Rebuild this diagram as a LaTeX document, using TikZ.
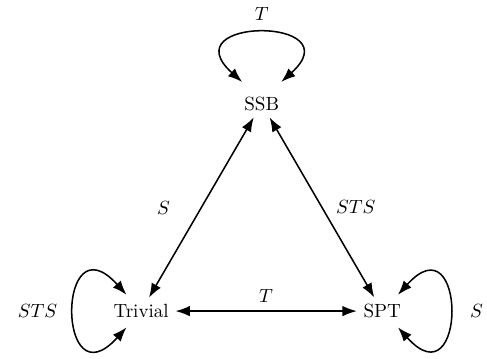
\documentclass[tikz,border=0pt]{standalone}
\usepackage{amsmath, amssymb}
\usepackage{tikz}
\usetikzlibrary{arrows.meta, positioning}

\begin{document}
\begin{tikzpicture}[
                phase/.style={
                    rectangle,
                    text centered,
                    inner sep=3.33pt
                },
                arrow/.style={{Latex[length=7.5pt,width=5.5pt]}-{Latex[length=7.5pt,width=5.5pt]}, thick}
            ]

            \useasboundingbox (-2.60,-0.866) rectangle (6.37,5.73);

            % Phases
            \node (trivial) [phase] at (0,0) {Trivial};

            \node (spt) [phase] at (4.44,0) {SPT};

            \node (ssb) [phase] at (2.22,3.82) {SSB};

            % Arrows
            \draw [arrow] (trivial) -- (ssb)
            node [midway, left=0.45cm] {$S$};
            \draw [arrow] (ssb) -- (spt)
            node [midway, right=0.13cm] {$STS$};
            \draw [arrow] (trivial) -- (spt)
            node [midway, above=1pt] {$T$};

            % Loops
            \draw [arrow] ([shift={(-0.36,0.40)}]ssb.center)
            .. controls +(138:1.8) and +(42:1.8) ..
            ([shift={(0.36,0.40)}]ssb.center)
            node [midway, above=3pt] {$T$};

            \draw [arrow] ([shift={(-0.27,0.30)}]trivial.center)
            .. controls +(132:1.93) and +(228:1.93) ..
            ([shift={(-0.27,-0.30)}]trivial.center)
            node [midway, left=5pt] {$STS$};

            \draw [arrow] ([shift={(0.29,0.30)}]spt.center)
            .. controls +(48:1.9) and +(-48:1.9) ..
            ([shift={(0.29,-0.30)}]spt.center)
            node [midway, right=7pt] {$S$};

            \end{tikzpicture}
\end{document}
